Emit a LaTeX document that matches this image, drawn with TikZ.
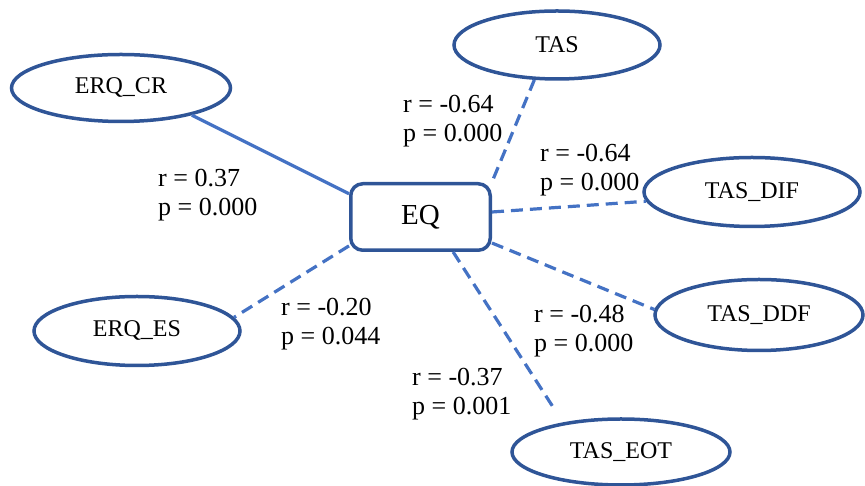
\documentclass[tikz,border=0pt]{standalone}
\usepackage{fontspec}
\setmainfont{Liberation Serif}
\usetikzlibrary{shapes.geometric}
\definecolor{nodeblue}{RGB}{47,85,151}
\definecolor{lineblue}{RGB}{68,114,196}

\begin{document}
\begin{tikzpicture}[x=1pt,y=1pt]
\useasboundingbox (0,0) rectangle (865,486);
							\begin{scope}[every node/.style={ellipse,draw=nodeblue,line width=3.5pt,inner sep=0pt,font=\fontsize{24}{28}\selectfont}]
								\node[minimum width=219pt,minimum height=67pt] (ERQ_CR) at (121,398) {ERQ\_CR};
								\node[minimum width=206pt,minimum height=68pt] (TAS) at (557,441) {TAS};
								\node[minimum width=216pt,minimum height=69pt] (TAS_DIF) at (752,294) {TAS\_DIF};
								\node[minimum width=208pt,minimum height=71pt] (TAS_DDF) at (759,171) {TAS\_DDF};
								\node[minimum width=206pt,minimum height=69pt] (ERQ_ES) at (137,155) {ERQ\_ES};
								\node[minimum width=218pt,minimum height=66pt] (TAS_EOT) at (621,34) {TAS\_EOT};
							\end{scope}
							\node[draw=nodeblue,line width=3.5pt,rounded corners=12pt,minimum width=139.5pt,minimum height=66.5pt,font=\fontsize{29}{34}\selectfont] (EQ) at (420.5,269) {EQ};
							
							\begin{scope}[every edge/.style={draw=lineblue,line width=3.2pt},dashline/.style={dash pattern=on 12pt off 7pt}]
								\path (EQ.162) edge (ERQ_CR.-21);
								\path (EQ.north east) edge [dashline,shorten <=4pt] (TAS.237);
								\path (EQ.4) edge [dashline] (TAS_DIF.185);
								\path (EQ.-20) edge [dashline] (TAS_DDF.177);
								\path (EQ.-47) edge [dashline,shorten >=13pt] (TAS_EOT.153);
								\path (EQ.202) edge [dashline] (ERQ_ES.8);
							\end{scope}
							
							\begin{scope}[every node/.style={anchor=base west,align=left,inner sep=0pt,font=\fontsize{26}{29}\selectfont}]
								\node (rCR) at (158,270) {r = 0.37\\p = 0.000};
								\node (rTAS) at (403,344) {r = -0.64\\p = 0.000};
								\node (rDIF) at (540,295) {r = -0.64\\p = 0.000};
								\node (rES) at (281,141) {r = -0.20\\p = 0.044};
								\node (rDDF) at (534,134) {r = -0.48\\p = 0.000};
								\node (rEOT) at (412,71) {r = -0.37\\p = 0.001};
							\end{scope}
						\end{tikzpicture}
\end{document}
